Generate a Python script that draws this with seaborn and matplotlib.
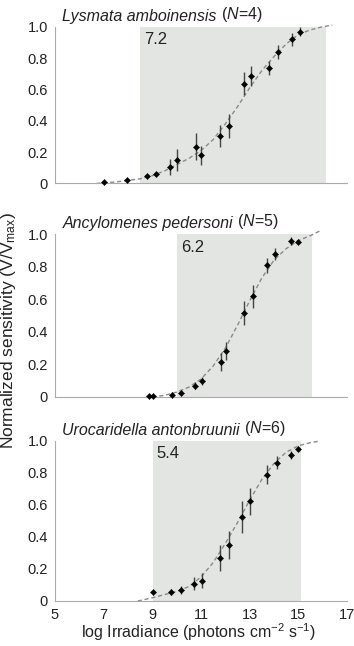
import matplotlib
matplotlib.use("Agg")
import matplotlib.pyplot as plt
import seaborn as sns
import pandas as pd

# panel titles / shaded range labels
species = ["Lysmata amboinensis", "Ancylomenes pedersoni", "Urocaridella antonbruunii"]
n_animals = [4, 5, 6]
range_labels = ["7.2", "6.2", "5.4"]
shade_lo = [8.48, 10.03, 9.01]
shade_hi = [16.13, 15.58, 15.12]

# measured points (log irradiance, normalized response, error)
x1 = [7.03, 7.97, 8.78, 9.14, 9.73, 10.03, 10.79, 10.99, 11.8, 12.17, 12.75, 13.06, 13.8, 14.17, 14.75, 15.06]
y1 = [0.01, 0.02, 0.05, 0.06, 0.106, 0.149, 0.234, 0.179, 0.304, 0.368, 0.636, 0.683, 0.738, 0.836, 0.919, 0.968]
e1 = [0.0, 0.0, 0.01, 0.015, 0.05, 0.07, 0.085, 0.06, 0.07, 0.077, 0.074, 0.064, 0.044, 0.045, 0.04, 0.03]

x2 = [8.85, 9.03, 9.8, 10.18, 10.74, 11.06, 11.82, 12.01, 12.76, 13.14, 13.72, 14.03, 14.69, 14.99]
y2 = [0.004, 0.004, 0.012, 0.027, 0.07, 0.099, 0.214, 0.283, 0.517, 0.618, 0.807, 0.877, 0.955, 0.951]
e2 = [0.0, 0.0, 0.0, 0.008, 0.02, 0.023, 0.053, 0.054, 0.075, 0.072, 0.045, 0.038, 0.025, 0.01]

x3 = [9.03, 9.78, 10.17, 10.72, 11.04, 11.78, 12.14, 12.69, 13.0, 13.72, 14.11, 14.69, 14.99]
y3 = [0.056, 0.056, 0.069, 0.108, 0.127, 0.27, 0.35, 0.527, 0.623, 0.79, 0.865, 0.912, 0.948]
e3 = [0.0, 0.02, 0.025, 0.04, 0.047, 0.08, 0.09, 0.1, 0.085, 0.06, 0.043, 0.024, 0.012]

# fitted curves
cx1 = [6.7, 7.5, 8, 8.5, 9, 9.5, 10, 10.5, 11, 11.5, 12, 12.5, 13, 13.5, 14, 14.5, 15, 15.5, 16, 16.4]
cy1 = [0.0, 0.01, 0.02, 0.03, 0.05, 0.08, 0.12, 0.16, 0.21, 0.28, 0.38, 0.49, 0.61, 0.72, 0.81, 0.89, 0.95, 0.98, 1.0, 1.01]
cx2 = [9.0, 9.5, 10, 10.5, 11, 11.5, 12, 12.5, 13, 13.5, 14, 14.5, 15, 15.5, 15.9]
cy2 = [0.0, 0.01, 0.03, 0.06, 0.11, 0.19, 0.3, 0.44, 0.59, 0.73, 0.84, 0.91, 0.96, 0.99, 1.02]
cx3 = [8.4, 9, 9.5, 10, 10.5, 11, 11.5, 12, 12.5, 13, 13.5, 14, 14.5, 15, 15.5, 15.9]
cy3 = [0.0, 0.02, 0.04, 0.06, 0.09, 0.15, 0.24, 0.36, 0.49, 0.63, 0.76, 0.86, 0.93, 0.97, 0.99, 1.0]

x_ticks = [5, 7, 9, 11, 13, 15, 17]
y_ticks = [0, 0.2, 0.4, 0.6, 0.8, 1.0]
y_ticklabels = ["0", "0.2", "0.4", "0.6", "0.8", "1.0"]

sns.set_style("white")
plt.rcParams["font.family"] = ["Liberation Sans", "DejaVu Sans"]
plt.rcParams["mathtext.fontset"] = "custom"
plt.rcParams["mathtext.rm"] = "Liberation Sans"
plt.rcParams["mathtext.it"] = "Liberation Sans:italic"

fig = plt.figure(figsize=(3.54, 6.46), dpi=100)
W, H = 354, 646
left, right = 55, 347
panels = [(26.7, 183.5), (234, 397), (441, 601)]

points = [(x1, y1, e1), (x2, y2, e2), (x3, y3, e3)]
curves = [(cx1, cy1), (cx2, cy2), (cx3, cy3)]
label_pos = [(8.65, 0.92), (10.2, 0.92), (9.15, 0.92)]

for i, (top, bot) in enumerate(panels):
    ax = fig.add_axes([left / W, 1 - bot / H, (right - left) / W, (bot - top) / H])
    ax.axvspan(shade_lo[i], shade_hi[i], ymin=0, ymax=1, color="#e3e5e3", lw=0, zorder=0)

    cx, cy = curves[i]
    sns.lineplot(x=cx, y=cy, ax=ax, color="#8a8a8a", lw=1.0, linestyle=(0, (3, 2)),
                 zorder=2, clip_on=False)

    px, py, pe = points[i]
    ax.errorbar(px, py, yerr=pe, fmt="none", ecolor="#444444", elinewidth=1.0,
                capsize=0, zorder=3, clip_on=False)
    df = pd.DataFrame({"x": px, "y": py})
    sns.scatterplot(data=df, x="x", y="y", ax=ax, marker="D", s=10, color="black",
                    edgecolor="black", linewidth=0.3, zorder=4, clip_on=False)

    ax.set_xlim(5, 17)
    ax.set_ylim(0, 1.0)
    ax.set_xticks(x_ticks)
    ax.set_yticks(y_ticks)
    ax.set_yticklabels(y_ticklabels, fontsize=10.5, color="#222222")
    if i < 2:
        ax.set_xticklabels([])
    else:
        ax.set_xticklabels([str(t) for t in x_ticks], fontsize=10.5, color="#222222")
    ax.set_xlabel("")
    ax.set_ylabel("")
    ax.tick_params(axis="both", direction="out", length=3, width=0.8, color="#aaaaaa", pad=2)
    for s in ["top", "right"]:
        ax.spines[s].set_visible(False)
    for s in ["left", "bottom"]:
        ax.spines[s].set_color("#aaaaaa")
        ax.spines[s].set_linewidth(0.8)

    lx, ly = label_pos[i]
    ax.text(lx, ly, range_labels[i], fontsize=12, color="#222222", ha="left", va="center")
    name = ax.text(5.3, 1.02, species[i], fontsize=11.5, style="italic", color="#222222",
                   ha="left", va="bottom", clip_on=False)
    ax.annotate(f" ($N$={n_animals[i]})", xy=(1, 0), xycoords=name,
                fontsize=11.5, color="#222222", ha="left", va="bottom")

fig.text(9 / W, 1 - 331 / H, r"Normalized sensitivity (V/V$_{\mathrm{max}}$)",
         rotation=90, ha="center", va="center", fontsize=12.5, color="#222222")
fig.text(198 / W, 1 - 632 / H, r"log Irradiance (photons cm$^{-2}$ s$^{-1}$)",
         ha="center", va="center", fontsize=11.5, color="#222222")

fig.savefig("out.png", dpi=100)
